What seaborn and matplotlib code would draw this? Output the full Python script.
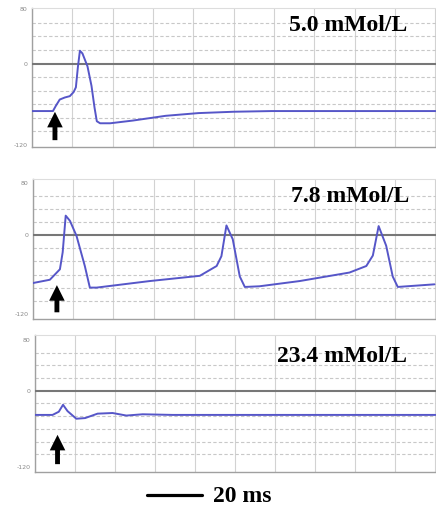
import matplotlib
matplotlib.use("Agg")
import matplotlib.pyplot as plt
from matplotlib.lines import Line2D
import seaborn as sns
import pandas as pd

# ---- data (time in ms, membrane potential in mV) ----
t1 = [0, 8.3, 9.5, 11, 13, 15, 16.5, 17.4, 18.2, 19, 20, 22, 23.6, 24.8, 25.7, 27, 31,
      40, 53, 66, 80, 95, 110, 130, 160]
v1 = [-70, -70, -62, -53, -50, -48, -42, -35, -5, 19, 15, -4, -33, -65, -85, -88, -88,
      -84, -77, -73, -71, -70, -70, -70, -70]

t2 = [0, 6.7, 10.7, 11.8, 13, 14.7, 17.3, 20.6, 22.6, 25.3, 46.4, 66.3, 73, 74.9, 76.9,
      79.4, 82.2, 84.2, 90, 106, 125.8, 132.5, 135.1, 137.4, 140.4, 143, 145, 159.6]
v2 = [-73, -68, -52, -26, 30, 22, -1, -47, -80, -80, -70, -62, -47, -32, 15,
      -6, -63, -79, -78, -70, -57, -47, -31, 14, -16, -63, -79, -75]

t3 = [0, 7, 9.5, 11.2, 13, 16.5, 20, 25, 31, 36.5, 43, 55, 160]
v3 = [-38, -38, -33, -22, -32, -44, -43, -36, -35, -39, -37, -38, -38]

labels = ["5.0 mMol/L", "7.8 mMol/L", "23.4 mMol/L"]
ytick_vals = [-120, 0, 80]
ytick_labels = ["-120", "0", "80"]
scale_label = "20 ms"

# ---- layout ----
W, H = 436, 507
sns.set_style("white")
fig = plt.figure(figsize=(W / 100, H / 100), dpi=100)

# (left px, top px, bottom px, ylim)
panels = [
    (32, 8, 147, (-123, 82)),
    (33, 179, 319, (-128, 86)),
    (35, 335, 472, (-128, 88)),
]
text_pos = [(407, 31), (409, 202), (407, 362)]
arrows = [((9.1, -67), (9.1, -117)), ((9.5, -72), (9.5, -122)), ((9.0, -65), (9.0, -120))]
series = [(t1, v1), (t2, v2), (t3, v3)]

trace_color = "#5656c8"

for i, ((left, top, bot, ylim), (t, v)) in enumerate(zip(panels, series)):
    ax = fig.add_axes([left / W, 1 - bot / H, (W - left + 2) / W, (bot - top) / H])
    df = pd.DataFrame({"t": t, "v": v})
    sns.lineplot(data=df, x="t", y="v", ax=ax, color=trace_color, lw=1.4,
                 sort=False, zorder=5)
    ax.set_xlim(0, 161)
    ax.set_ylim(*ylim)
    ax.set_xlabel("")
    ax.set_ylabel("")
    # grid
    ax.set_xticks(range(0, 161, 16))
    ax.set_xticklabels([])
    ax.set_yticks(ytick_vals)
    ax.set_yticklabels(ytick_labels, fontsize=4.5, color="#8a8a8a")
    ax.set_yticks(list(range(-120, 81, 20)), minor=True)
    ax.tick_params(axis="both", which="both", length=0, pad=3)
    ax.grid(False)
    ax.grid(True, axis="x", which="major", color="#d2d2d2", lw=0.8, ls="-")
    ax.grid(True, axis="y", which="minor", color="#c8c8c8", lw=0.8, ls=(0, (3, 2)))
    ax.axhline(0, color="#777777", lw=1.5, zorder=3)
    for s in ["left", "bottom"]:
        ax.spines[s].set_color("#a0a0a0")
        ax.spines[s].set_linewidth(1.0)
    ax.spines["top"].set_color("#dddddd")
    ax.spines["right"].set_visible(False)
    # stimulus arrow
    tip, tail = arrows[i]
    ax.annotate("", xy=tip, xytext=tail,
                arrowprops=dict(arrowstyle="simple,head_length=0.8,head_width=0.8,tail_width=0.25",
                                mutation_scale=14, color="black", lw=0),
                zorder=6)
    # concentration label
    tx, ty = text_pos[i]
    fig.text(tx / W, 1 - ty / H, labels[i], ha="right", va="baseline",
             fontsize=17, fontweight="bold", family="Liberation Serif", color="black")

# scale bar
fig.add_artist(Line2D([147 / W, 202 / W], [1 - 495 / H, 1 - 495 / H],
                      color="black", lw=2.3, transform=fig.transFigure))
fig.text(213 / W, 1 - 502 / H, scale_label, ha="left", va="baseline",
         fontsize=17, fontweight="bold", family="Liberation Serif", color="black")

fig.savefig("out.png", dpi=100, facecolor="white")
